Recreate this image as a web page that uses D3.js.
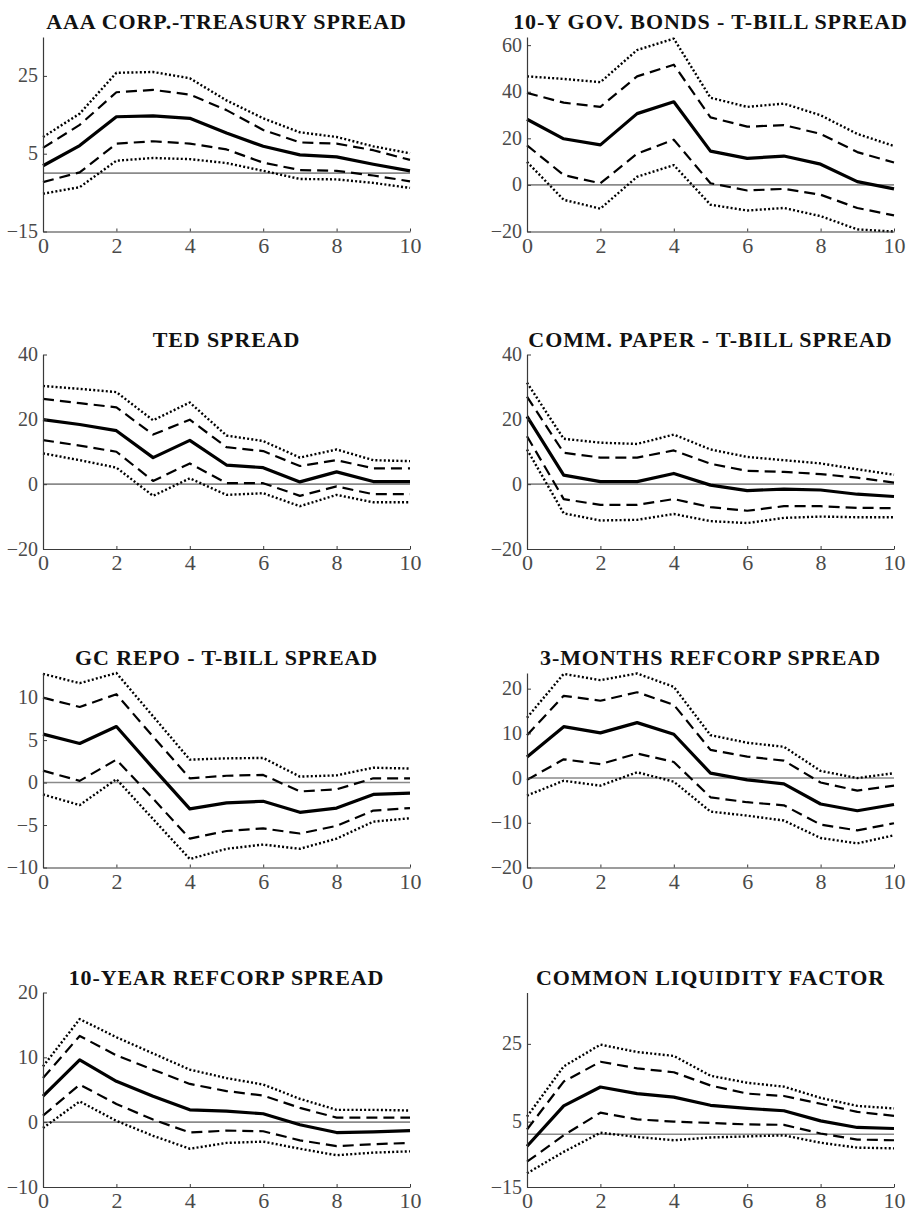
<!DOCTYPE html>
<html><head><meta charset="utf-8">
<script src="https://cdn.jsdelivr.net/npm/d3@7"></script>
<style>
html,body{margin:0;padding:0;background:#fff;}
svg{display:block;}
</style></head><body>
<svg id="chart" width="910" height="1214"></svg>
<script>
// ---------- DATA ----------
const horizons = [0,1,2,3,4,5,6,7,8,9,10];
const xTicks = [0,2,4,6,8,10];
const titles = [
  "AAA CORP.-TREASURY SPREAD",
  "10-Y GOV. BONDS - T-BILL SPREAD",
  "TED SPREAD",
  "COMM. PAPER - T-BILL SPREAD",
  "GC REPO - T-BILL SPREAD",
  "3-MONTHS REFCORP SPREAD",
  "10-YEAR REFCORP SPREAD",
  "COMMON LIQUIDITY FACTOR"
];
// y tick labels per panel
const yTicksAAA   = [-15,5,25];
const yTicksGov   = [-20,0,20,40,60];
const yTicksTED   = [-20,0,20,40];
const yTicksCP    = [-20,0,20,40];
const yTicksRepo  = [-10,-5,0,5,10];
const yTicksRef3  = [-20,-10,0,10,20];
const yTicksRef10 = [-10,0,10,20];
const yTicksLiq   = [-15,5,25];

// AAA corp.-treasury
const aaaMean = [1.9,7.1,14.5,14.7,14.1,10.3,6.9,4.7,4.2,2.3,0.6];
const aaaHi68 = [6.5,12.4,20.8,21.4,20.2,16.2,11.1,7.9,7.6,5.9,3.4];
const aaaLo68 = [-2.3,0.2,7.6,8.2,7.6,6.1,2.7,0.8,0.6,-0.6,-2.1];
const aaaHi90 = [9.3,15.3,25.8,26.0,24.4,18.7,14.1,10.5,9.3,6.9,5.1];
const aaaLo90 = [-5.3,-3.6,3.2,3.9,3.6,2.6,0.6,-1.5,-1.6,-2.5,-3.8];
// 10-Y gov bonds - T-bill
const govMean = [28.2,19.8,17.2,30.6,35.7,14.5,11.4,12.4,8.9,1.4,-1.7];
const govHi68 = [39.5,35.3,33.5,46.6,51.6,29.0,25.0,25.7,21.9,14.1,9.6];
const govLo68 = [17.0,4.2,0.7,13.4,19.4,0.7,-2.4,-1.7,-4.2,-9.9,-13.1];
const govHi90 = [46.6,45.5,44.1,57.9,62.8,37.4,33.5,34.9,29.9,21.9,16.7];
const govLo90 = [9.9,-6.4,-10.2,3.5,8.5,-8.5,-11.0,-9.9,-13.4,-19.1,-20.0];
// TED spread
const tedMean = [19.9,18.4,16.5,8.2,13.5,5.9,5.1,0.7,3.8,0.8,0.8];
const tedHi68 = [26.3,25.0,23.7,15.3,19.9,11.4,10.2,5.6,7.4,4.9,4.9];
const tedLo68 = [13.6,11.9,10.0,1.0,6.4,0.3,0.3,-3.6,-0.7,-3.1,-3.1];
const tedHi90 = [30.3,29.4,28.4,19.7,25.2,15.0,13.3,8.2,10.7,7.4,7.1];
const tedLo90 = [9.5,7.4,5.1,-3.6,1.8,-3.3,-2.8,-6.8,-3.3,-5.6,-5.6];
// Comm. paper - T-bill
const cpMean = [20.9,2.8,0.8,0.8,3.3,-0.3,-2.0,-1.5,-1.8,-3.1,-3.8];
const cpHi68 = [27.0,9.7,8.2,8.2,10.4,6.3,4.1,3.8,3.1,2.0,0.5];
const cpLo68 = [14.8,-4.6,-6.4,-6.4,-4.6,-7.1,-8.2,-6.8,-6.8,-7.3,-7.4];
const cpHi90 = [31.3,14.0,12.8,12.4,15.3,10.7,8.4,7.4,6.4,4.6,2.9];
const cpLo90 = [10.7,-9.0,-11.2,-11.0,-9.2,-11.4,-12.0,-10.4,-10.0,-10.2,-10.2];
// GC repo - T-bill
const repoMean = [5.7,4.6,6.6,1.7,-3.1,-2.4,-2.2,-3.5,-3.0,-1.4,-1.25];
const repoHi68 = [10.0,8.9,10.4,5.4,0.5,0.8,0.9,-1.05,-0.8,0.5,0.5];
const repoLo68 = [1.4,0.2,2.7,-1.9,-6.6,-5.7,-5.4,-6.0,-5.1,-3.3,-3.0];
const repoHi90 = [12.8,11.7,12.9,7.8,2.7,2.85,2.9,0.7,0.85,1.75,1.65];
const repoLo90 = [-1.4,-2.65,0.4,-4.3,-9.0,-7.8,-7.3,-7.8,-6.6,-4.6,-4.2];
// 3-months Refcorp
const r3Mean = [4.7,11.5,10.1,12.4,9.8,1.1,-0.4,-1.3,-5.8,-7.3,-5.9];
const r3Hi68 = [9.6,18.4,17.3,19.2,16.4,6.3,4.8,3.9,-1.0,-2.8,-1.7];
const r3Lo68 = [-0.4,4.2,3.1,5.5,3.6,-4.3,-5.4,-6.1,-10.4,-11.7,-10.1];
const r3Hi90 = [13.5,23.3,21.9,23.4,20.4,9.6,7.9,7.0,1.6,0.0,1.1];
const r3Lo90 = [-3.9,-0.6,-1.7,1.3,-0.8,-7.5,-8.4,-9.5,-13.4,-14.6,-12.8];
// 10-year Refcorp
const r10Mean = [4.0,9.6,6.3,4.0,1.9,1.7,1.3,-0.4,-1.6,-1.5,-1.3];
const r10Hi68 = [6.8,13.3,10.3,8.1,5.9,4.8,4.1,2.2,0.7,0.7,0.7];
const r10Lo68 = [1.0,5.8,2.8,0.4,-1.6,-1.3,-1.4,-2.8,-3.7,-3.4,-3.2];
const r10Hi90 = [8.6,15.9,13.1,10.6,8.1,6.8,5.8,3.6,1.9,1.9,1.8];
const r10Lo90 = [-0.9,3.2,0.2,-2.1,-4.1,-3.2,-3.0,-4.1,-5.1,-4.7,-4.5];
// Common liquidity factor
const liqMean = [-3.4,9.05,13.9,12.2,11.3,9.2,8.4,7.8,5.2,2.7,2.3];
const liqHi68 = [1.9,15.3,20.4,18.7,17.7,14.3,12.2,11.6,9.6,7.5,6.5];
const liqLo68 = [-7.8,-0.3,7.3,5.6,5.0,4.5,3.9,3.75,0.3,-1.5,-1.7];
const liqHi90 = [6.3,19.2,24.8,22.9,21.9,16.8,15.0,14.0,11.1,9.05,8.4];
const liqLo90 = [-11.1,-5.0,0.6,-0.75,-1.7,-0.9,-0.6,-0.3,-2.4,-3.8,-4.0];

// ---------- LAYOUT ----------
const colLeft = [43, 527];
const plotW = 367;
const rowTop = [37, 354.5, 673, 992.5];
const plotH = 194.5;

const panels = [
  {mean:aaaMean, hi68:aaaHi68, lo68:aaaLo68, hi90:aaaHi90, lo90:aaaLo90, ticks:yTicksAAA, dom:[-15,35], frac:[0,1]},
  {mean:govMean, hi68:govHi68, lo68:govLo68, hi90:govHi90, lo90:govLo90, ticks:yTicksGov, dom:[-20,63.5], frac:[0,1]},
  {mean:tedMean, hi68:tedHi68, lo68:tedLo68, hi90:tedHi90, lo90:tedLo90, ticks:yTicksTED, dom:[-20,40], frac:[0,1]},
  {mean:cpMean, hi68:cpHi68, lo68:cpLo68, hi90:cpHi90, lo90:cpLo90, ticks:yTicksCP, dom:[-20,40], frac:[0,1]},
  {mean:repoMean, hi68:repoHi68, lo68:repoLo68, hi90:repoHi90, lo90:repoLo90, ticks:yTicksRepo, dom:[-10,12.9], frac:[0,1]},
  {mean:r3Mean, hi68:r3Hi68, lo68:r3Lo68, hi90:r3Hi90, lo90:r3Lo90, ticks:yTicksRef3, dom:[-20,23.5], frac:[0,1]},
  {mean:r10Mean, hi68:r10Hi68, lo68:r10Lo68, hi90:r10Hi90, lo90:r10Lo90, ticks:yTicksRef10, dom:[-10,20], frac:[0,1]},
  {mean:liqMean, hi68:liqHi68, lo68:liqLo68, hi90:liqHi90, lo90:liqLo90, ticks:yTicksLiq, dom:[-15,0,5,25,38.3], frac:[0,0.271,0.336,0.736,1]}
];

const svg = d3.select("#chart");
const serif = "'Liberation Serif','Times New Roman',Times,serif";
const axisColor = "#3a3a3a";
const labelColor = "#4a4a4a";

panels.forEach((p, i) => {
  const col = i % 2, row = Math.floor(i / 2);
  const left = colLeft[col], top = rowTop[row], bottom = top + plotH;
  const x = d3.scaleLinear().domain([0, 10]).range([left, left + plotW]);
  const y = d3.scaleLinear().domain(p.dom).range(p.frac.map(f => bottom - f * plotH));
  const g = svg.append("g");

  // title
  g.append("text")
    .attr("x", left + plotW / 2).attr("y", top - 8)
    .attr("text-anchor", "middle")
    .style("font-family", serif).attr("font-weight", "bold")
    .attr("font-size", 22).attr("letter-spacing", "0.9px")
    .attr("fill", "#111")
    .text(titles[i]);

  // zero line
  g.append("line")
    .attr("x1", x(0)).attr("x2", x(10))
    .attr("y1", y(0)).attr("y2", y(0))
    .attr("stroke", "#8a8a8a").attr("stroke-width", 1.6);

  const line = arr => d3.line().x((d, j) => x(horizons[j])).y(d => y(d))(arr);

  const styles = [
    {key:"hi90", w:2.4, dash:"2,2.2"},
    {key:"lo90", w:2.4, dash:"2,2.2"},
    {key:"hi68", w:2.2, dash:"11,6"},
    {key:"lo68", w:2.2, dash:"11,6"},
    {key:"mean", w:3.2, dash:null}
  ];
  styles.forEach(s => {
    g.append("path")
      .attr("d", line(p[s.key]))
      .attr("fill", "none")
      .attr("stroke", "#000")
      .attr("stroke-width", s.w)
      .attr("stroke-linejoin", "round")
      .attr("stroke-dasharray", s.dash);
  });

  // axes
  const yAxis = g.append("g").attr("transform", `translate(${left},0)`)
    .call(d3.axisLeft(y).tickValues(p.ticks).tickSizeInner(-4).tickSizeOuter(0).tickPadding(5).tickFormat(d3.format("d")));
  const xAxis = g.append("g").attr("transform", `translate(0,${bottom})`)
    .call(d3.axisBottom(x).tickValues(xTicks).tickSizeInner(-3).tickSizeOuter(0).tickPadding(5.5).tickFormat(d3.format("d")));

  [yAxis, xAxis].forEach(a => {
    a.attr("font-family", null);
    a.style("font-family", serif);
    a.select(".domain").attr("stroke", axisColor).attr("stroke-width", 1.2);
    a.selectAll(".tick line").attr("stroke", axisColor).attr("stroke-width", 1);
    a.selectAll(".tick text").attr("fill", labelColor).style("font-family", serif);
  });
  yAxis.attr("font-size", 20);
  yAxis.selectAll(".tick text").attr("dy", "0.3em");
  xAxis.attr("font-size", 22);
});
</script>
</body></html>
